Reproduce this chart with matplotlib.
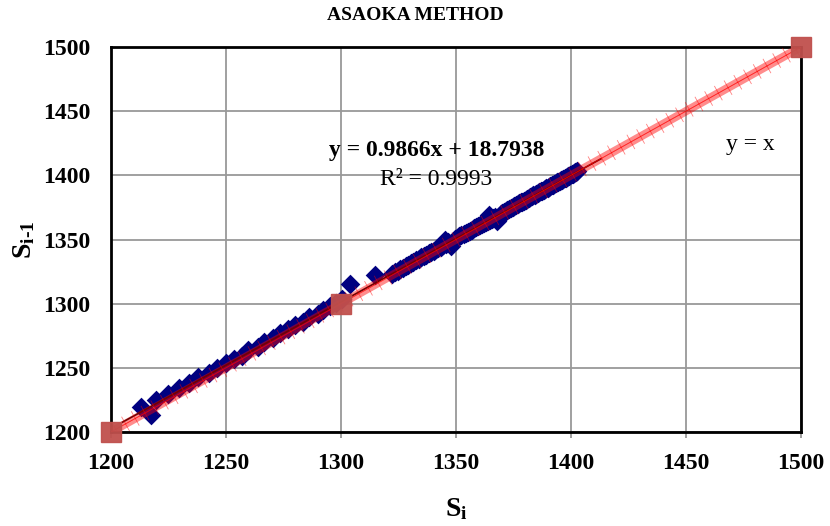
import matplotlib
matplotlib.use('Agg')
import matplotlib.pyplot as plt
import matplotlib.patheffects as pe
import numpy as np

plt.rcParams['font.family'] = ['Liberation Serif', 'DejaVu Serif']
plt.rcParams['mathtext.fontset'] = 'custom'
plt.rcParams['mathtext.rm'] = 'Liberation Serif'
plt.rcParams['mathtext.bf'] = 'Liberation Serif:bold'
plt.rcParams['mathtext.it'] = 'Liberation Serif:italic'

# settlement readings (consecutive), plotted as pairs
asentamiento = [1217.2, 1213.2, 1219.7, 1225.0, 1229.5, 1234.0, 1238.0, 1242.6, 1246.0,
                1250.0, 1253.5, 1257.0, 1259.5, 1263.9, 1266.5, 1270.4, 1273.5, 1277.0,
                1280.0, 1283.4, 1286.0, 1289.9, 1292.0, 1295.1, 1298.0, 1300.3, 1304.0,
                1315.0, 1322.4, 1323.5, 1324.6, 1325.8, 1327.0, 1328.1, 1329.3, 1330.4,
                1331.5, 1332.7, 1333.8, 1335.0, 1336.1, 1337.1, 1338.2, 1339.3, 1340.3,
                1341.4, 1342.4, 1343.5, 1344.5, 1345.6, 1346.6, 1347.7, 1345.2, 1349.6,
                1350.5, 1351.4, 1352.4, 1353.3, 1354.2, 1355.1, 1356.0, 1356.9, 1357.8,
                1358.7, 1359.6, 1360.4, 1361.3, 1362.1, 1363.0, 1363.8, 1364.6, 1365.5,
                1366.3, 1367.1, 1367.9, 1364.5, 1369.4, 1370.2, 1370.9, 1371.7, 1372.4,
                1373.2, 1373.9, 1374.6, 1375.4, 1376.1, 1376.8, 1377.5, 1378.2, 1378.9,
                1379.6, 1380.3, 1381.0, 1381.6, 1382.3, 1383.0, 1383.6, 1384.3, 1384.9,
                1385.6, 1386.2, 1386.8, 1387.5, 1388.1, 1388.7, 1389.3, 1389.9, 1390.5,
                1391.1, 1391.7, 1392.3, 1392.8, 1393.4, 1394.0, 1394.5, 1395.1, 1395.6,
                1396.2, 1396.7, 1397.2, 1397.8, 1398.3, 1398.8, 1399.3, 1399.8, 1400.3,
                1400.8, 1401.3, 1401.8, 1402.3, 1402.8, 1403.2]
s_i = asentamiento[:-1]
s_ant = asentamiento[1:]

# trendline coefficients and its range
pendiente = 0.9866
intercepto = 18.7938
rango_tendencia = [1205, 1413]

# y = x reference line
linea_xy = [1200, 1300, 1500]

ticks = [1200, 1250, 1300, 1350, 1400, 1450, 1500]

fig = plt.figure(figsize=(8.3, 5.26), dpi=100)
ax = fig.add_axes([0.1337, 0.1787, 0.8313, 0.7319])

ax.set_xlim(1200, 1500)
ax.set_ylim(1200, 1500)
ax.set_xticks(ticks)
ax.set_yticks(ticks)
ax.grid(True, color='#999999', linewidth=1.3)
ax.set_axisbelow(True)

ax.scatter(s_i, s_ant, marker='D', s=100, color='#000080', linewidths=0,
           zorder=3, clip_on=False)

xt = np.array(rango_tendencia)
ax.plot(xt, pendiente * xt + intercepto, color='black', linewidth=1.2, zorder=4)

ax.plot(linea_xy, linea_xy, color='red', alpha=0.45, linewidth=6, zorder=5,
        solid_capstyle='butt')
ax.plot(linea_xy, linea_xy, color='red', alpha=0.5, linewidth=0.6, zorder=5,
        path_effects=[pe.withTickedStroke(angle=90, spacing=8, length=0.7),
                      pe.withTickedStroke(angle=-90, spacing=8, length=0.7)])
ax.plot(linea_xy, linea_xy, linestyle='none', marker='s', markersize=14,
        color='#c0504d', alpha=0.95, zorder=6, clip_on=False)

for sp in ax.spines.values():
    sp.set_linewidth(2)
    sp.set_color('black')
    sp.set_zorder(2.5)

ax.tick_params(axis='x', direction='out', length=4, width=1.3, color='#999999',
               pad=11, labelsize=17)
ax.tick_params(axis='y', length=0, pad=15, labelsize=17)
for lb in ax.get_xticklabels() + ax.get_yticklabels():
    lb.set_fontweight('bold')

fig.text(0.5, 0.971, 'ASAOKA METHOD', fontsize=14, fontweight='bold',
         ha='center', va='center')
ax.set_xlabel(r'$\mathbf{S_i}$', fontsize=20, labelpad=16)
ax.set_ylabel('$\\mathbf{S_{i\u20101}}$', fontsize=20, labelpad=4)

ax.text(1341.5, 1419, 'y = 0.9866x + 18.7938', fontsize=17, fontweight='bold',
        ha='center', va='center')
ax.text(1341.5, 1397, 'R² = 0.9993', fontsize=17, ha='center', va='center')
ax.text(1478, 1424, 'y = x', fontsize=17, ha='center', va='center')

fig.savefig('out.png', dpi=100)
